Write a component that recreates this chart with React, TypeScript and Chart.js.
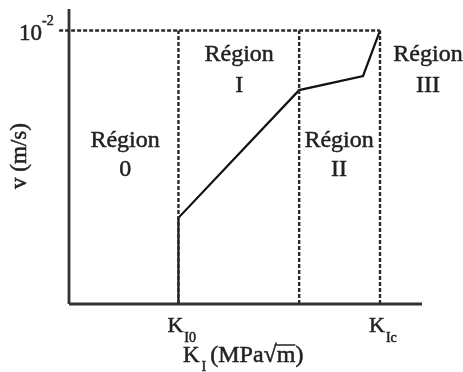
import React, { useEffect, useRef } from "react";
import { Chart, registerables } from "chart.js";

Chart.register(...registerables);

// Axis extents (arbitrary units; schematic diagram)
const X_MAX = 100;
const Y_MAX = 100;
const X_TICK_START = -2.8;

// Characteristic stress intensity factors
const K_I0 = 31.0;
const K_II_BOUND = 65.2;
const K_IC = 88.1;
const V_TOP = 92.7; // level of 10^-2 m/s

// Crack velocity curve
const curveX = [31.0, 31.0, 65.2, 83.3, 88.1];
const curveY = [0, 29.2, 72.5, 77.3, 92.7];

// Region labels
const regionNames = ["0", "I", "II", "III"];
const regionX = [15.9, 48.2, 76.5, 101.7];
const regionY = [55.3, 84.4, 55.3, 84.4];
const regionY2 = [45.6, 73.9, 45.6, 73.9];

const INK = "#222222";
const FONT = "'Liberation Serif', 'DejaVu Serif', serif";

const pts = (xs: number[], ys: number[]) => xs.map((x, i) => ({ x, y: ys[i] }));

const textPlugin = {
  id: "diagramText",
  afterDraw(chart: any) {
    const ctx = chart.ctx as CanvasRenderingContext2D;
    const xs = chart.scales.x;
    const ys = chart.scales.y;
    const px = (v: number) => xs.getPixelForValue(v);
    const py = (v: number) => ys.getPixelForValue(v);
    ctx.save();
    ctx.fillStyle = INK;
    ctx.strokeStyle = INK;
    ctx.lineWidth = 0.5;
    const txt = (s: string, x: number, y: number) => {
      ctx.fillText(s, x, y);
      ctx.strokeText(s, x, y);
    };

    // Region labels
    ctx.font = `24px ${FONT}`;
    ctx.textAlign = "center";
    ctx.textBaseline = "middle";
    regionNames.forEach((n, i) => {
      txt("Région", px(regionX[i]), py(regionY[i]));
      txt(n, px(regionX[i]), py(regionY2[i]));
    });

    // 10^-2 label
    const yTop = py(V_TOP);
    ctx.textAlign = "right";
    ctx.textBaseline = "alphabetic";
    ctx.font = `23px ${FONT}`;
    txt("10", px(X_TICK_START) - 17, yTop + 9);
    ctx.textAlign = "left";
    ctx.font = `14px ${FONT}`;
    txt("-2", px(X_TICK_START) - 17, yTop - 6);

    // K labels under x axis
    const drawK = (cx: number, sub: string) => {
      const base = py(0) + 28;
      ctx.font = `22px ${FONT}`;
      ctx.textAlign = "left";
      const kw = ctx.measureText("K").width;
      txt("K", cx - 11, base);
      ctx.font = `14px ${FONT}`;
      txt(sub, cx - 11 + kw + 1, base + 10);
    };
    drawK(px(K_I0), "I0");
    drawK(px(K_IC), "Ic");

    // x axis title: K_I (MPa√m)
    {
      const base = py(0) + 58;
      let x = 183;
      ctx.textAlign = "left";
      ctx.font = `23px ${FONT}`;
      txt("K", x, base);
      x += ctx.measureText("K").width;
      ctx.font = `14px ${FONT}`;
      txt("I", x + 2, base + 9);
      x += ctx.measureText("I").width + 6;
      ctx.font = `24px ${FONT}`;
      txt("(MPa√", x, base);
      x += ctx.measureText("(MPa√").width;
      const mw = ctx.measureText("m").width;
      txt("m", x, base);
      ctx.lineWidth = 1.5;
      ctx.beginPath();
      ctx.moveTo(x - 2, base - 17);
      ctx.lineTo(x + mw, base - 17);
      ctx.stroke();
      ctx.lineWidth = 0.5;
      x += mw;
      txt(")", x, base);
    }

    // y axis title
    ctx.save();
    ctx.translate(20, 156);
    ctx.rotate(-Math.PI / 2);
    ctx.font = `23px ${FONT}`;
    ctx.textAlign = "center";
    ctx.textBaseline = "middle";
    txt("v (m/s)", 0, 0);
    ctx.restore();

    ctx.restore();
  },
};

export default function App() {
  const ref = useRef<HTMLCanvasElement | null>(null);
  useEffect(() => {
    document.body.style.margin = "0";
    document.body.style.background = "#ffffff";
    if (!ref.current) return;
    const dashed = { borderDash: [4, 2], borderWidth: 2.4, borderColor: "#2a2a2a", clip: false as any };
    const chart = new Chart(ref.current, {
      type: "scatter",
      data: {
        datasets: [
          { data: pts([X_TICK_START, K_IC], [V_TOP, V_TOP]), showLine: true, ...dashed },
          { data: pts([K_I0, K_I0], [0, V_TOP]), showLine: true, ...dashed },
          { data: pts([K_II_BOUND, K_II_BOUND], [0, V_TOP]), showLine: true, ...dashed },
          { data: pts([K_IC, K_IC], [0, V_TOP]), showLine: true, ...dashed },
          { data: pts([0, 0], [0, Y_MAX]), showLine: true, borderColor: "#333333", borderWidth: 2.8, clip: false as any },
          { data: pts([0, X_MAX], [0, 0]), showLine: true, borderColor: "#333333", borderWidth: 2.8, clip: false as any },
          { data: pts(curveX, curveY), showLine: true, borderColor: "#111111", borderWidth: 2.2, clip: false as any },
        ],
      },
      options: {
        animation: false,
        responsive: false,
        layout: { padding: { left: 69, right: 41, top: 9, bottom: 68 } },
        elements: { point: { radius: 0, hoverRadius: 0 }, line: { tension: 0 } },
        scales: {
          x: { type: "linear", min: 0, max: X_MAX, display: false },
          y: { type: "linear", min: 0, max: Y_MAX, display: false },
        },
        plugins: { legend: { display: false }, tooltip: { enabled: false } },
      },
      plugins: [textPlugin],
    });
    return () => chart.destroy();
  }, []);
  return <canvas ref={ref} width={463} height={372} style={{ display: "block" }} />;
}
